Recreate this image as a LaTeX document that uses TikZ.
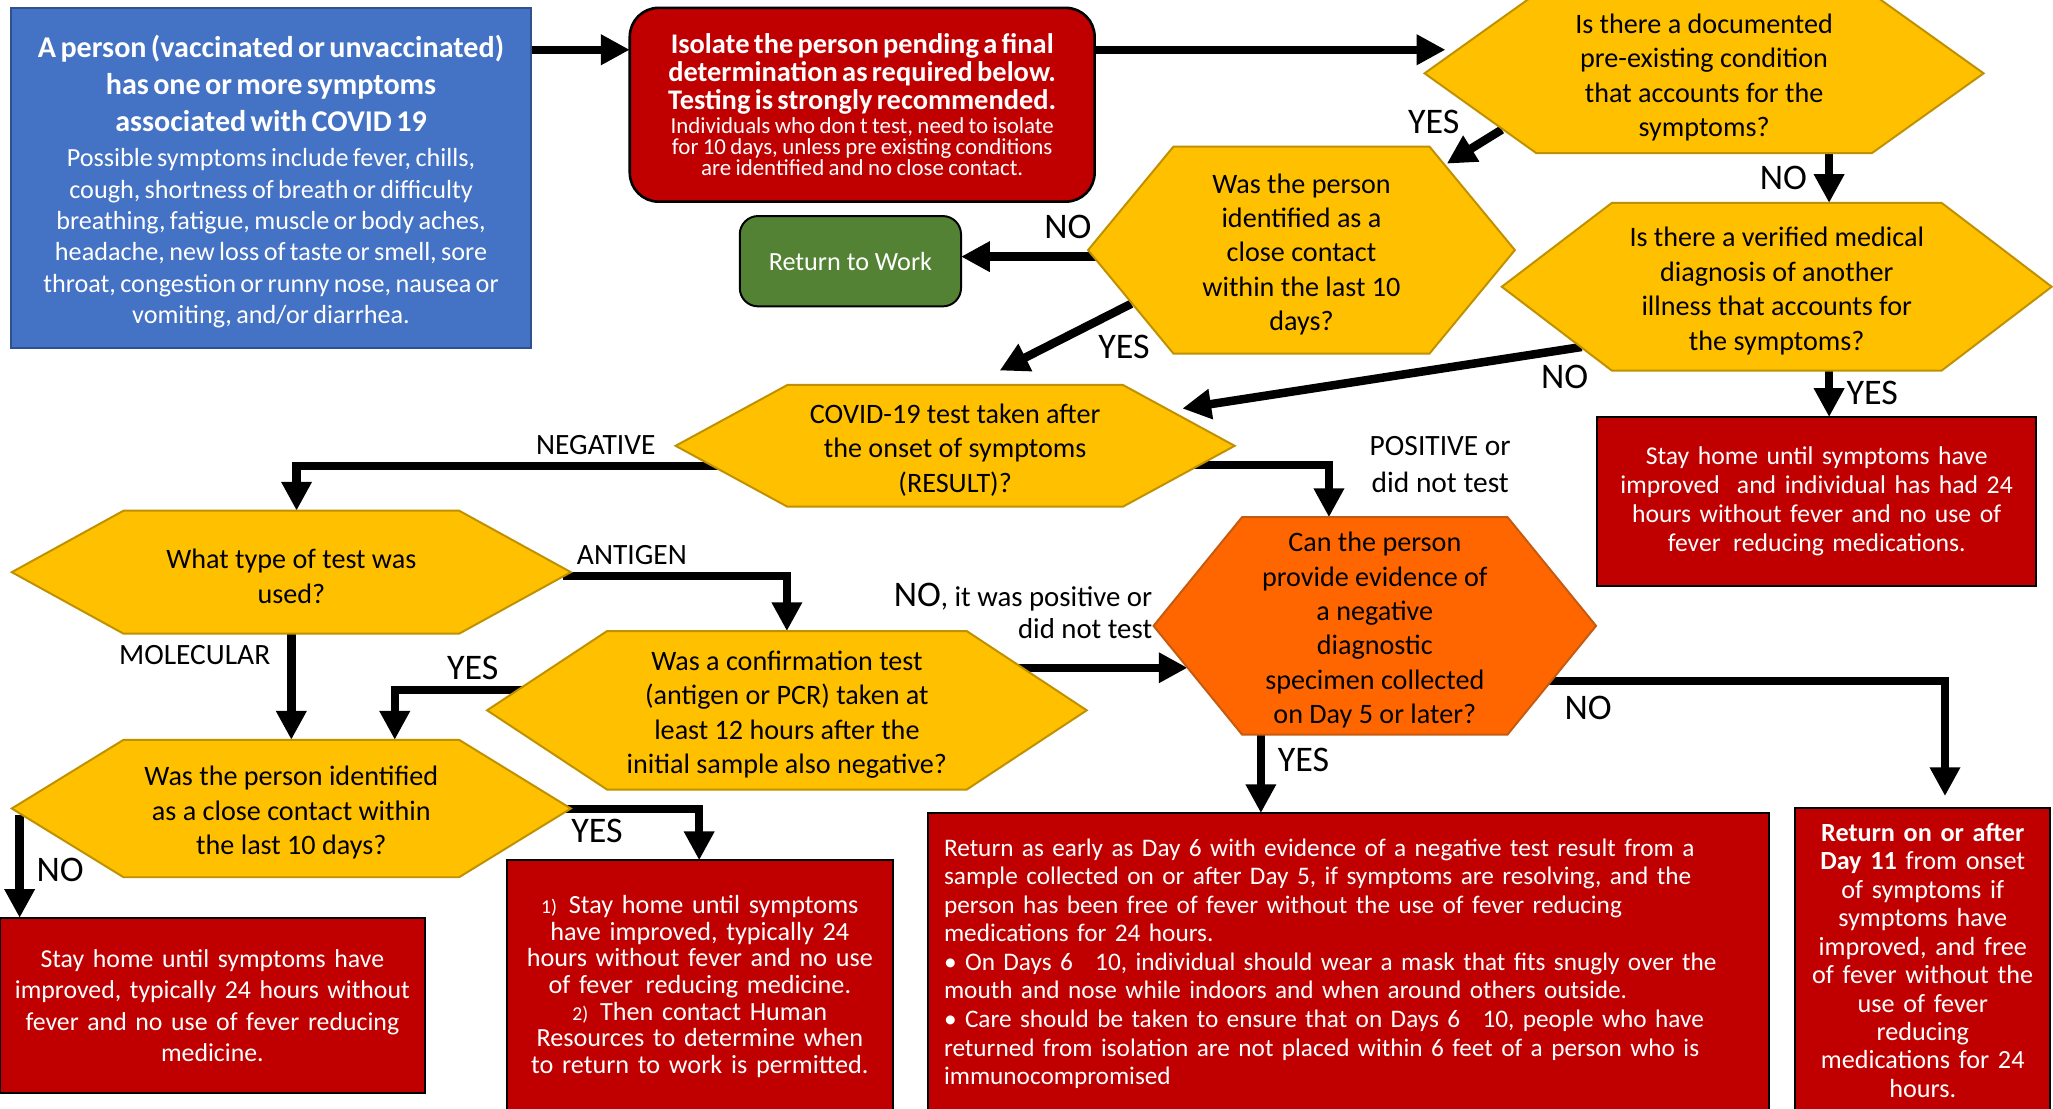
\documentclass[tikz,border=0pt]{standalone}
\usepackage{fontspec}
\setmainfont{Carlito}
\usetikzlibrary{arrows.meta,calc}
\pgfdeclarelayer{back}
\pgfdeclarelayer{bg}
\pgfdeclarelayer{mid}
\pgfsetlayers{back,bg,mid,main}
\definecolor{cblue}{HTML}{4472C4}
\definecolor{cbluedge}{HTML}{2F528F}
\definecolor{cred}{HTML}{C00000}
\definecolor{cgreen}{HTML}{548235}
\definecolor{cyellow}{HTML}{FFC000}
\definecolor{cyedge}{HTML}{BF9000}
\definecolor{corange}{HTML}{FF6600}
\definecolor{coedge}{HTML}{C55A11}
\newcommand\myfs[2]{\fontsize{#1}{#2}\selectfont\lineskiplimit=-100pt\relax}
\newcommand\hexq[7]{%
  \node[qtext, minimum width=#4pt, minimum height=#5pt] (#1) at (#2,#3) {\rule{0pt}{21.5pt}#7};
  \begin{pgfonlayer}{mid}
  \filldraw[#6] (#1.west) -- ($(#1.north west)+(0.2*#4,0)$) -- ($(#1.north east)-(0.2*#4,0)$) -- (#1.east) -- ($(#1.south east)-(0.2*#4,0)$) -- ($(#1.south west)+(0.2*#4,0)$) -- cycle;
  \end{pgfonlayer}}
\tikzset{
  qtext/.style={align=center, font=\myfs{21.5}{26.3}},
  hexy/.style={fill=cyellow, draw=cyedge, line width=1.5pt},
  hexo/.style={fill=corange, draw=coedge, line width=1.5pt},
  redbox/.style={fill=cred, draw=black, line width=1.5pt, text=white, align=center},
  flow/.style={line width=6.5pt, -{Triangle[length=22pt 0 0, width=22pt 0 0]}},
  lab/.style={font=\myfs{27.5}{30}},
  labs/.style={font=\myfs{22.5}{28}, align=center},
}
\begin{document}
\begin{tikzpicture}[x=1pt,y=-1pt, every node/.style={inner sep=0pt,outer sep=0pt}]
\begin{pgfonlayer}{back}
\fill[white] (0,0) rectangle (1568,847);
\end{pgfonlayer}
\useasboundingbox (0,0) rectangle (1568,847);

% boxes
\node[fill=cblue, draw=cbluedge, line width=1.5pt, text=white, minimum width=397pt, minimum height=260pt, text width=395pt, align=center] (start) at (207,136)
 {{\myfs{23}{28}\bfseries \rule{0pt}{23pt}A person (vaccinated or unvaccinated)\\ has one or more symptoms\\ associated with COVID 19\par}\vspace{3pt}
  {\myfs{20}{24}Possible symptoms include fever, chills,\\ cough, shortness of breath or difficulty\\ breathing, fatigue, muscle or body aches,\\ headache, new loss of taste or smell, sore\\ throat, congestion or runny nose, nausea or\\ vomiting, and/or diarrhea.\par}};

\node[fill=cred, draw=black, line width=2pt, rounded corners=22pt, text=white, minimum width=355pt, minimum height=148pt, text width=352pt, align=center] (iso) at (658.5,80)
 {{\myfs{21.7}{21.2}\bfseries Isolate the person pending a final\\ determination as required below.\\ Testing is strongly recommended.\par}\vspace{2pt}
  {\myfs{17.5}{16.3}Individuals who don t test, need to isolate\\ for 10 days, unless pre existing conditions\\ are identified and no close contact.\par}};

\node[fill=cgreen, draw=black, line width=1.5pt, rounded corners=14pt, text=white, minimum width=169pt, minimum height=69pt, font=\myfs{20}{24}] (rtw) at (649.5,199.5) {Return to Work};

\node[redbox, minimum width=335pt, minimum height=129pt, text width=330pt, font=\myfs{19.6}{22}] (home1) at (1387.5,383)
 {Stay home until symptoms have\\ improved\ \ and individual has had 24\\ hours without fever and no use of\\ fever\hspace{3pt} reducing medications.};

\node[redbox, minimum width=324.4pt, minimum height=134pt, text width=320pt, font=\myfs{19.7}{24}] (home2) at (162.2,768)
 {Stay home until symptoms have\\ improved, typically 24 hours without\\ fever and no use of fever reducing\\ medicine.};

\node[redbox, minimum width=295pt, minimum height=193pt, text width=290pt, font=\myfs{20}{20.4}] (home3) at (534.5,753.5)
 {{\myfs{15}{20.4}1)}\hspace{9pt}Stay home until symptoms\\ have improved, typically 24\\ hours without fever and no use\\ of fever\hspace{3pt} reducing medicine.\\ {\myfs{15}{20.4}2)}\hspace{9pt}Then contact Human\\ Resources to determine when\\ to return to work is permitted.};

\node[redbox, align=left, minimum width=642pt, minimum height=230pt, text width=618pt, font=\myfs{19.3}{21.8}] (early) at (1030,736)
 {Return as early as Day 6 with evidence of a negative test result from a\\ sample collected on or after Day 5, if symptoms are resolving, and the\\ person has been free of fever without the use of fever reducing\\ medications for 24 hours.\\ • On Days 6\hspace{17pt}10, individual should wear a mask that fits snugly over the\\ mouth and nose while indoors and when around others outside.\\ • Care should be taken to ensure that on Days 6\hspace{17pt}10, people who have\\ returned from isolation are not placed within 6 feet of a person who is\\ immunocompromised};

\node[redbox, minimum width=195pt, minimum height=233pt, text width=190pt, font=\myfs{20}{21.7}] (day11) at (1468.5,733.5)
 {\textbf{Return on or after}\\ \textbf{Day 11} from onset\\ of symptoms if\\ symptoms have\\ improved, and free\\ of fever without the\\ use of fever\\ reducing\\ medications for 24\\ hours.};

% hexagons
\hexq{pc}{1301.5}{56}{427}{122}{hexy}{Is there a documented\\ pre-existing condition\\ that accounts for the\\ symptoms?}
\hexq{c1}{994}{191}{326}{158}{hexy}{Was the person\\ identified as a\\ close contact\\ within the last 10\\ days?}
\hexq{dg}{1357}{219}{420}{128}{hexy}{Is there a verified medical\\ diagnosis of another\\ illness that accounts for\\ the symptoms?}
\hexq{cv}{729.5}{340.5}{427}{93}{hexy}{COVID-19 test taken after\\ the onset of symptoms\\ (RESULT)?}
\hexq{ty}{222.5}{437}{427}{94}{hexy}{What type of test was\\ used?}
\hexq{cf}{601}{542.5}{458}{121}{hexy}{Was a confirmation test\\ (antigen or PCR) taken at\\ least 12 hours after the\\ initial sample also negative?}
\hexq{ev}{1050}{478}{338}{166}{hexo}{Can the person\\ provide evidence of\\ a negative\\ diagnostic\\ specimen collected\\ on Day 5 or later?}
\hexq{c2}{222.5}{617.5}{427}{105}{hexy}{Was the person identified\\ as a close contact within\\ the last 10 days?}

% labels
\node[lab] (yesPC) at (1095,93) {YES};
\node[lab] (noC1) at (815.6,173) {NO};
\node[lab] (yesC1) at (858.5,265) {YES};
\node[lab] (noPC) at (1362,136) {NO};
\node[lab] (noDG) at (1195,288) {NO};
\node[lab] (yesDG) at (1430,300) {YES};
\node[labs] (neg) at (455,340) {NEGATIVE};
\node[labs] (pos) at (1100,355) {POSITIVE or\\ did not test};
\node[labs] (anti) at (482.6,424) {ANTIGEN};
\node[labs] (mol) at (148.7,500) {MOLECULAR};
\node[lab] (yesCF) at (361,510) {YES};
\node[anchor=base east, font=\myfs{22}{26}] (noCFa) at (880,463) {{\myfs{27.5}{30}NO}, it was positive or};
\node[anchor=base east, font=\myfs{22}{26}] (noCFb) at (880,488) {did not test};
\node[lab] (noEV) at (1213,541) {NO};
\node[lab] (yesEV) at (995.6,580.5) {YES};
\node[lab] (noC2) at (46,664.5) {NO};
\node[lab] (yesC2) at (456,635) {YES};

% connectors
\begin{pgfonlayer}{bg}
\draw[flow] ($(start.north east)+(0,32)$) -- ($(iso.north west)+(0,32)$);
\draw[flow] ($(iso.north east)+(0,32)$) -- ($(pc.west)+(16,-18)$);
\draw[flow] ($(pc.west)+(59,43)$) -- ($(c1.north east)+(-52,13)$);
\draw[flow] ($(pc.south)+(95.5,0)$) -- ($(dg.north)+(40,0)$);
\draw[flow] ($(c1.west)+(8,5)$) -- ($(rtw.east)+(0,-3.5)$);
\draw[flow] ($(c1.west)+(33,41)$) -- ($(cv.north)+(34,-11)$);
\draw[flow] ($(dg.west)+(61,46)$) -- ($(cv.east)+(-40,-28.5)$);
\draw[flow] ($(dg.south)+(40,0)$) -- ($(home1.north)+(9.5,0)$);
\draw[flow] ($(cv.west)+(34,15.5)$) -| ($(ty.north)+(4,0)$);
\draw[flow] ($(cv.east)+(-33,14.5)$) -| ($(ev.north)+(-35,0)$);
\draw[flow] ($(ty.east)+(-6,3)$) -| (cf.north);
\draw[flow] (ty.south) -- (c2.north);
\draw[flow] ($(cf.west)+(27,-15.5)$) -| ($(c2.north)+(79,0)$);
\draw[flow] ($(cf.east)+(-52.5,-32.5)$) -- ($(ev.west)+(26,32)$);
\draw[flow] ($(ev.east)+(-38,42)$) -| ($(day11.north)+(17,-9)$);
\draw[flow] ($(ev.south)+(-87,0)$) -- ($(early.north)+(-67,0)$);
\draw[flow] ($(c2.west)+(6,5)$) -- ($(home2.north west)+(15,0)$);
\draw[flow] ($(c2.east)+(-4,0.5)$) -| ($(home3.north)+(-0.5,0)$);
\end{pgfonlayer}
\end{tikzpicture}
\end{document}
